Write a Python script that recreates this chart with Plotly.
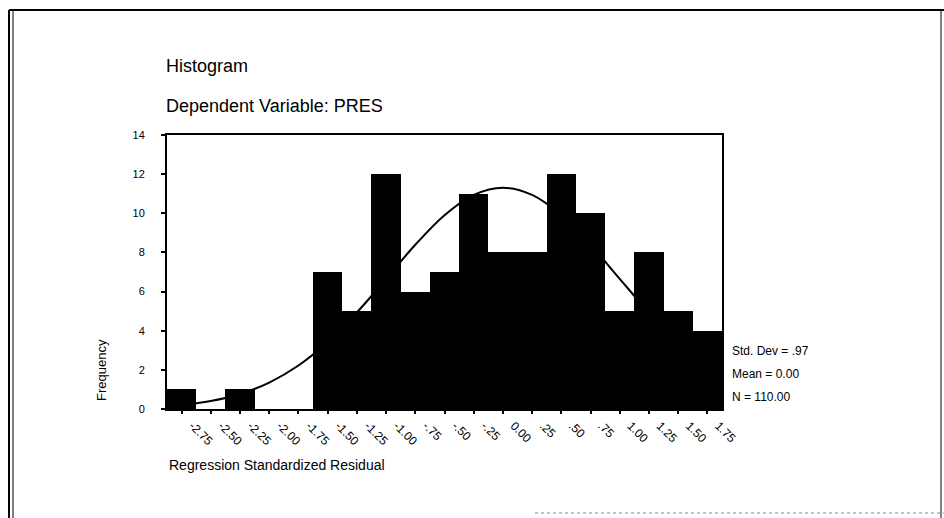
import plotly.graph_objects as go

# ---- data ----
bin_mids = [-2.75, -2.50, -2.25, -2.00, -1.75, -1.50, -1.25, -1.00, -0.75, -0.50,
            -0.25, 0.00, 0.25, 0.50, 0.75, 1.00, 1.25, 1.50, 1.75]
frequencies = [1, 0, 1, 0, 0, 7, 5, 12, 6, 7, 11, 8, 8, 12, 10, 5, 8, 5, 4]
tick_labels = ["-2.75", "-2.50", "-2.25", "-2.00", "-1.75", "-1.50", "-1.25", "-1.00",
               "-.75", "-.50", "-.25", "0.00", ".25", ".50", ".75", "1.00", "1.25",
               "1.50", "1.75"]
# normal curve heights
curve_x = [-2.875, -2.75, -2.50, -2.25, -2.00, -1.75, -1.50, -1.25, -1.00, -0.75, -0.50,
           -0.25, 0.00, 0.25, 0.50, 0.75, 1.00, 1.25, 1.50, 1.75, 1.875]
curve_y = [0.14, 0.20, 0.41, 0.77, 1.35, 2.22, 3.42, 4.93, 6.65, 8.39, 9.90,
           10.94, 11.31, 10.94, 9.90, 8.39, 6.65, 4.93, 3.42, 2.22, 1.75]
y_ticks = [0, 2, 4, 6, 8, 10, 12, 14]
stats_lines = ["Std. Dev = .97", "Mean = 0.00", "N = 110.00"]
BIN_WIDTH = 0.25

FONT = "Liberation Sans, Arial, sans-serif"

fig = go.Figure()
fig.add_trace(go.Bar(x=bin_mids, y=frequencies, width=BIN_WIDTH,
                     marker=dict(color="black", line=dict(width=0)),
                     showlegend=False, hoverinfo="x+y"))
fig.add_trace(go.Scatter(x=curve_x, y=curve_y, mode="lines",
                         line=dict(color="black", width=2, shape="spline"),
                         showlegend=False, hoverinfo="skip"))

W, H = 944, 518
pl, pr, pt, pb = 167, 222, 135, 109
pw, ph = W - pl - pr, H - pt - pb

fig.update_layout(
    width=W, height=H,
    margin=dict(l=pl, r=pr, t=pt, b=pb),
    paper_bgcolor="white", plot_bgcolor="white",
    font=dict(family=FONT, color="black"),
    bargap=0,
    xaxis=dict(range=[bin_mids[0] - BIN_WIDTH / 2, bin_mids[-1] + BIN_WIDTH / 2],
               tickmode="array", tickvals=bin_mids, ticktext=tick_labels,
               tickangle=45, tickfont=dict(size=12, family=FONT),
               ticklabelshift=11,
               ticks="outside", ticklen=3, tickwidth=2, tickcolor="black",
               showline=True, linecolor="black", linewidth=2, mirror=True,
               showgrid=False, zeroline=False, fixedrange=True),
    yaxis=dict(range=[0, 14], tickmode="array", tickvals=y_ticks,
               tickfont=dict(size=11, family=FONT),
               ticks="outside", ticklen=4, tickwidth=2, tickcolor="black",
               ticklabelstandoff=14,
               showline=True, linecolor="black", linewidth=2, mirror=True,
               showgrid=False, zeroline=False, fixedrange=True),
)


def px(x):
    return (x - pl) / pw


def py(y):
    return (H - y - pb) / ph


ann = []
ann.append(dict(text="Histogram", x=px(164), y=py(66), showarrow=False,
                xanchor="left", yanchor="middle", font=dict(size=18, family=FONT)))
ann.append(dict(text="Dependent Variable: PRES", x=px(164), y=py(106), showarrow=False,
                xanchor="left", yanchor="middle", font=dict(size=18, family=FONT)))
ann.append(dict(text="Frequency", x=px(101), y=py(370), showarrow=False,
                xanchor="center", yanchor="middle", textangle=-90,
                font=dict(size=13, family=FONT)))
ann.append(dict(text="Regression Standardized Residual", x=px(167), y=py(465),
                showarrow=False, xanchor="left", yanchor="middle",
                font=dict(size=14, family=FONT)))
for i, s in enumerate(stats_lines):
    ann.append(dict(text=s, x=px(730), y=py(351 + 23 * i), showarrow=False,
                    xanchor="left", yanchor="middle", font=dict(size=12, family=FONT)))
for a in ann:
    a["xref"] = "paper"
    a["yref"] = "paper"
fig.update_layout(annotations=ann)

# outer frame of the scanned page
shapes = [
    dict(type="line", x0=px(9), x1=px(944), y0=py(10), y1=py(10),
         line=dict(color="black", width=2)),
    dict(type="line", x0=px(9), x1=px(9), y0=py(10), y1=py(518),
         line=dict(color="black", width=2)),
    dict(type="line", x0=px(13), x1=px(13), y0=py(10), y1=py(518),
         line=dict(color="black", width=1)),
    dict(type="line", x0=px(941), x1=px(941), y0=py(10), y1=py(518),
         line=dict(color="black", width=1)),
    dict(type="line", x0=px(535), x1=px(944), y0=py(513), y1=py(513),
         line=dict(color="#888888", width=1, dash="dot")),
]
for s in shapes:
    s["xref"] = "paper"
    s["yref"] = "paper"
fig.update_layout(shapes=shapes)

fig.write_html("out.html", config={"displayModeBar": False},
               post_script="document.body.style.margin='0';")
